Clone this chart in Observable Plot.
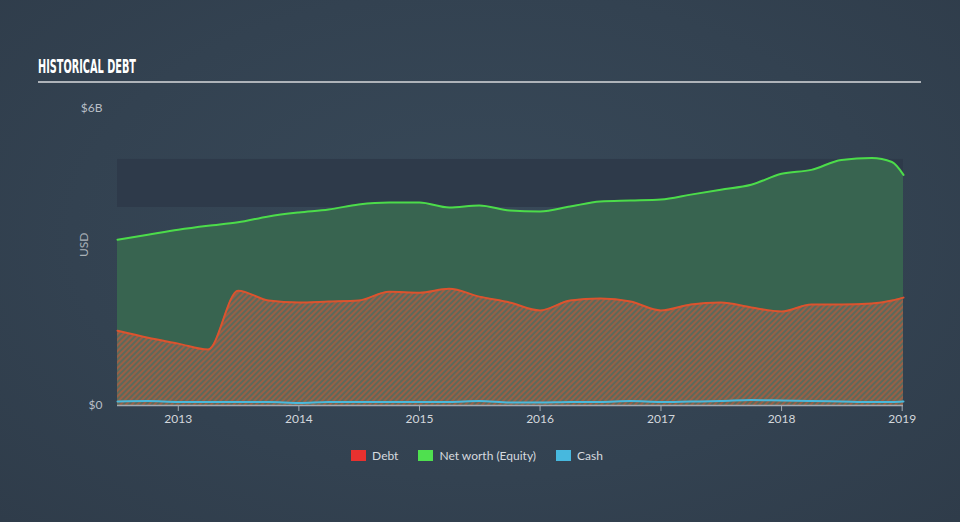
<!DOCTYPE html>
<html>
<head>
<meta charset="utf-8">
<script src="https://cdn.jsdelivr.net/npm/d3@7"></script>
<script src="https://cdn.jsdelivr.net/npm/@observablehq/plot@0.6"></script>
<style>
  html, body { margin: 0; padding: 0; }
  body {
    width: 960px; height: 522px; overflow: hidden; position: relative;
    background: radial-gradient(ellipse at 50% 45%, #384959 0%, #334251 60%, #2f3c4a 100%);
    font-family: Lato, "Open Sans", sans-serif;
  }
  #title {
    position: absolute; left: 38px; top: 55px;
    font-family: "Liberation Sans Narrow", "DejaVu Sans Condensed", sans-serif;
    font-weight: bold; font-size: 19px; color: #ffffff; white-space: nowrap;
    transform-origin: left center; display: inline-block; letter-spacing: 0;
  }
  #rule { position: absolute; left: 38px; top: 81px; width: 883px; height: 2px; background: #aeb3b9; }
  #chart { position: absolute; left: 0; top: 88px; }
  #legend {
    position: absolute; left: -3px; top: 448px; width: 960px; display: flex; justify-content: center;
    gap: 20px; font-size: 12px; color: #d6dadf; font-family: Lato, sans-serif;
  }
  .item { display: flex; align-items: center; gap: 6px; }
  .sw { width: 15px; height: 11px; display: inline-block; }
</style>
</head>
<body>
<div id="title">HISTORICAL DEBT</div>
<div id="rule"></div>
<div id="chart"></div>
<div id="legend"></div>
<script>
// ---- data (USD billions) ----
const dates = ["2012-07-01","2012-10-01","2013-01-01","2013-04-01","2013-07-01","2013-10-01",
  "2014-01-01","2014-04-01","2014-07-01","2014-10-01","2015-01-01","2015-04-01","2015-07-01",
  "2015-10-01","2016-01-01","2016-04-01","2016-07-01","2016-10-01","2017-01-01","2017-04-01",
  "2017-07-01","2017-10-01","2018-01-01","2018-04-01","2018-07-01","2018-10-01","2018-12-01","2019-01-05"];
const debt   = [1.51,1.37,1.25,1.13,2.32,2.12,2.08,2.10,2.12,2.30,2.28,2.36,2.20,2.08,1.92,2.12,2.16,2.10,1.92,2.04,2.08,1.98,1.90,2.04,2.04,2.06,2.12,2.18];
const equity = [3.35,3.45,3.55,3.63,3.70,3.82,3.90,3.96,4.06,4.10,4.10,4.00,4.04,3.94,3.92,4.02,4.12,4.14,4.16,4.26,4.36,4.46,4.68,4.76,4.96,5.00,4.92,4.66];
const cash   = [0.08,0.09,0.07,0.07,0.07,0.07,0.05,0.07,0.07,0.07,0.07,0.07,0.09,0.06,0.06,0.07,0.07,0.09,0.07,0.08,0.09,0.11,0.10,0.09,0.08,0.07,0.07,0.08];
const xTickLabels = ["2013","2014","2015","2016","2017","2018","2019"];
const yTicks = [0, 6];
const series = ["Debt", "Net worth (Equity)", "Cash"];
const seriesColors = ["#e8312f", "#4fe04f", "#47b8de"];

const rows = dates.map((d, i) => ({date: new Date(d), debt: debt[i], equity: equity[i], cash: cash[i]}));
const xTicks = xTickLabels.map(y => new Date(y + "-01-01"));
const xDomain = [rows[0].date, rows[rows.length - 1].date];

const curve = "monotone-x";
const chart = Plot.plot({
  width: 960, height: 350,
  marginLeft: 117, marginRight: 57, marginTop: 20, marginBottom: 33,
  style: {background: "transparent", fontFamily: "Lato, sans-serif", fontSize: "12px", color: "#c9ced4"},
  x: {type: "utc", domain: xDomain},
  y: {domain: [0, 6]},
  marks: [
    Plot.rect([{}], {x1: xDomain[0], x2: xDomain[1], y1: 4, y2: 4.97, fill: "#2e3a4a"}),
    Plot.areaY(rows, {x: "date", y: "equity", fill: "#386450", curve}),
    Plot.areaY(rows, {x: "date", y: "debt", fill: "url(#hatch)", curve}),
    Plot.lineY(rows, {x: "date", y: "cash", stroke: "#4ab9dc", strokeWidth: 2, curve}),
    Plot.lineY(rows, {x: "date", y: "equity", stroke: "#4cdc4a", strokeWidth: 2, curve}),
    Plot.lineY(rows, {x: "date", y: "debt", stroke: "#dc532e", strokeWidth: 2, curve}),
    Plot.ruleY([0], {stroke: "#a3aab2", strokeWidth: 1.5}),
    Plot.axisX(xTicks, {tickFormat: d3.utcFormat("%Y"), tickSize: 6, tickPadding: 3, stroke: "#a3aab2", fill: "#d3d7dc", fontSize: 12, label: null}),
    Plot.axisY(yTicks, {tickFormat: d => d === 0 ? "$0" : `$${d}B`, tickSize: 0, tickPadding: 15, fill: "#b9bfc6", fontSize: 12, label: null}),
    Plot.text(["USD"], {frameAnchor: "left", dx: -33, rotate: -90, fill: "#aab1b8", fontSize: 12})
  ]
});

d3.select(chart).insert("defs", ":first-child").html(
  `<pattern id="hatch" patternUnits="userSpaceOnUse" width="4" height="4" patternTransform="rotate(45)">
     <rect width="4" height="4" fill="#5b6a5b"></rect>
     <line x1="1" y1="0" x2="1" y2="4" stroke="#b45a3d" stroke-width="1.4"></line>
   </pattern>`);
document.getElementById("chart").appendChild(chart);

// legend
const legend = document.getElementById("legend");
series.forEach((s, i) => {
  const it = document.createElement("div");
  it.className = "item";
  it.innerHTML = `<span class="sw" style="background:${seriesColors[i]}"></span><span>${s}</span>`;
  legend.appendChild(it);
});

// condense title to the reference width
const t = document.getElementById("title");
const w = t.getBoundingClientRect().width;
t.style.transform = `scaleX(${98 / w})`;
</script>
</body>
</html>
